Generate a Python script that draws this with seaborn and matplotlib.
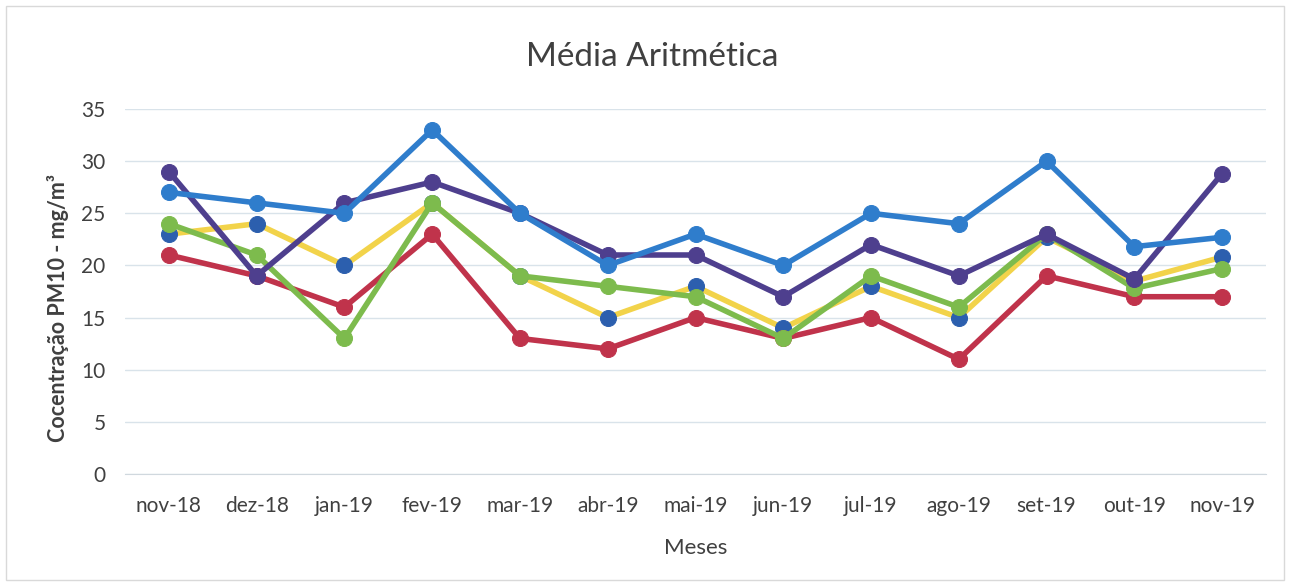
import pandas as pd
import matplotlib.pyplot as plt
import seaborn as sns
from matplotlib.patches import Rectangle

# Dados
meses = ['nov-18', 'dez-18', 'jan-19', 'fev-19', 'mar-19', 'abr-19', 'mai-19',
         'jun-19', 'jul-19', 'ago-19', 'set-19', 'out-19', 'nov-19']
serie_amarela = [23, 24, 20, 26, 19, 15, 18, 14, 18, 15, 22.7, 18.5, 20.8]
serie_vermelha = [21, 19, 16, 23, 13, 12, 15, 13, 15, 11, 19, 17, 17]
serie_verde = [24, 21, 13, 26, 19, 18, 17, 13, 19, 16, 23, 17.8, 19.7]
serie_roxa = [29, 19, 26, 28, 25, 21, 21, 17, 22, 19, 23, 18.7, 28.8]
serie_azul = [27, 26, 25, 33, 25, 20, 23, 20, 25, 24, 30, 21.8, 22.7]

# (valores, cor da linha, cor do marcador)
series = [
    (serie_amarela, '#f2d34a', '#2c5fae'),
    (serie_vermelha, '#c0334b', '#c0334b'),
    (serie_verde, '#7dbb4d', '#7dbb4d'),
    (serie_roxa, '#4e3f8e', '#4e3f8e'),
    (serie_azul, '#2f7dcc', '#2f7dcc'),
]

sns.set_style("white")
plt.rcParams['font.family'] = ['Lato', 'DejaVu Sans']

fig = plt.figure(figsize=(12.9, 5.86), dpi=100)
ax = fig.add_axes([125 / 1290, 1 - 474 / 586, (1266 - 125) / 1290, (474 - 109) / 586])

for i, (vals, cor, cor_marc) in enumerate(series):
    df = pd.DataFrame({'Mes': meses, 'Valor': vals})
    sns.lineplot(data=df, x='Mes', y='Valor', sort=False, ax=ax, color=cor,
                 linewidth=4, marker='o', markersize=11.5,
                 markerfacecolor=cor_marc, markeredgecolor=cor_marc, zorder=3 + i)

ax.set_xlim(-0.5, 12.5)
ax.set_ylim(0, 35)
ax.set_yticks(range(0, 36, 5))
ax.grid(axis='y', color='#d9e3ea', linewidth=1)
for s in ['top', 'right', 'left']:
    ax.spines[s].set_visible(False)
ax.spines['bottom'].set_color('#d0d8de')
ax.tick_params(axis='both', length=0, labelsize=15, colors='#404040')
ax.tick_params(axis='x', pad=16)
ax.tick_params(axis='y', pad=14)

fig.text(652 / 1290, 1 - 57 / 586, 'Média Aritmética', fontsize=24,
         color='#404040', ha='center', va='center')
ax.set_xlabel('Meses', fontsize=16, color='#404040')
ax.xaxis.set_label_coords(0.5, -0.175)
ax.set_ylabel('Cocentração PM10 - mg/m³', fontsize=15.5, fontweight='bold',
              color='#404040')
ax.yaxis.set_label_coords(-0.049, 0.455)

# moldura do gráfico
fig.patches.append(Rectangle((6 / 1290, 6 / 586), 1278 / 1290, 574 / 586,
                             transform=fig.transFigure, fill=False,
                             edgecolor='#d9d9d9', linewidth=1))

fig.savefig('out.png', dpi=100)
